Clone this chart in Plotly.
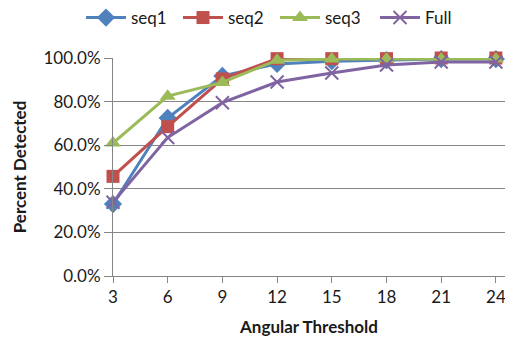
import plotly.graph_objects as go

thresholds = [3, 6, 9, 12, 15, 18, 21, 24]
seq1 = [0.33, 0.725, 0.918, 0.973, 0.985, 0.99, 0.995, 0.995]
seq2 = [0.457, 0.685, 0.904, 0.997, 0.997, 0.997, 1.0, 1.0]
seq3 = [0.61, 0.825, 0.888, 0.99, 0.995, 0.995, 0.995, 0.995]
full = [0.338, 0.635, 0.795, 0.89, 0.931, 0.968, 0.982, 0.982]
y_ticks = [0, 0.2, 0.4, 0.6, 0.8, 1.0]

series = [
    ("seq1", seq1, "#4F81BD", "diamond", 14),
    ("seq2", seq2, "#C0504D", "square", 13),
    ("seq3", seq3, "#9BBB59", "triangle-up", 14),
    ("Full", full, "#8064A2", "x-thin", 13),
]
# left edge (in px) of each legend entry along the top row
legend_left_px = [81, 178, 275, 375]

font_family = "Lato, 'Open Sans', sans-serif"
W, H = 505, 343

fig = go.Figure()
legend_layout = {}
for i, (name, vals, color, symbol, size) in enumerate(series):
    key = "legend" if i == 0 else f"legend{i + 1}"
    marker = dict(symbol=symbol, size=size, color=color)
    if symbol == "x-thin":
        marker["line"] = dict(color=color, width=2)
    fig.add_trace(go.Scatter(
        x=thresholds, y=vals, name=name, mode="lines+markers",
        line=dict(color=color, width=3), marker=marker, cliponaxis=False,
        legend=key,
    ))
    legend_layout[key] = dict(
        orientation="h", xref="container", x=legend_left_px[i] / W,
        xanchor="left", yref="container", y=1.0, yanchor="top",
        font=dict(size=17), itemwidth=40, bgcolor="rgba(0,0,0,0)",
    )

fig.update_layout(
    width=W, height=H,
    margin=dict(l=113, r=0, t=58, b=67),
    paper_bgcolor="white", plot_bgcolor="white",
    font=dict(family=font_family, size=17, color="#1a1a1a"),
    showlegend=True,
    xaxis=dict(
        range=[3, 24.5], tickvals=thresholds, ticks="outside", ticklen=6,
        tickcolor="#868686", showline=True, linecolor="#868686", linewidth=1,
        showgrid=False, zeroline=False, tickfont=dict(size=17),
        ticklabeloverflow="allow",
        title=dict(text="<b>Angular Threshold</b>", font=dict(size=17), standoff=14),
    ),
    yaxis=dict(
        range=[0, 1], tickvals=y_ticks, tickformat=".1%", ticks="outside",
        ticklen=8, tickcolor="#868686", showline=True, linecolor="#868686",
        linewidth=1, showgrid=True, gridcolor="#868686", gridwidth=1,
        zeroline=False, tickfont=dict(size=17),
        title=dict(text="<b>Percent Detected</b>", font=dict(size=17), standoff=12),
    ),
    **legend_layout,
)

fig.write_html("out.html")
